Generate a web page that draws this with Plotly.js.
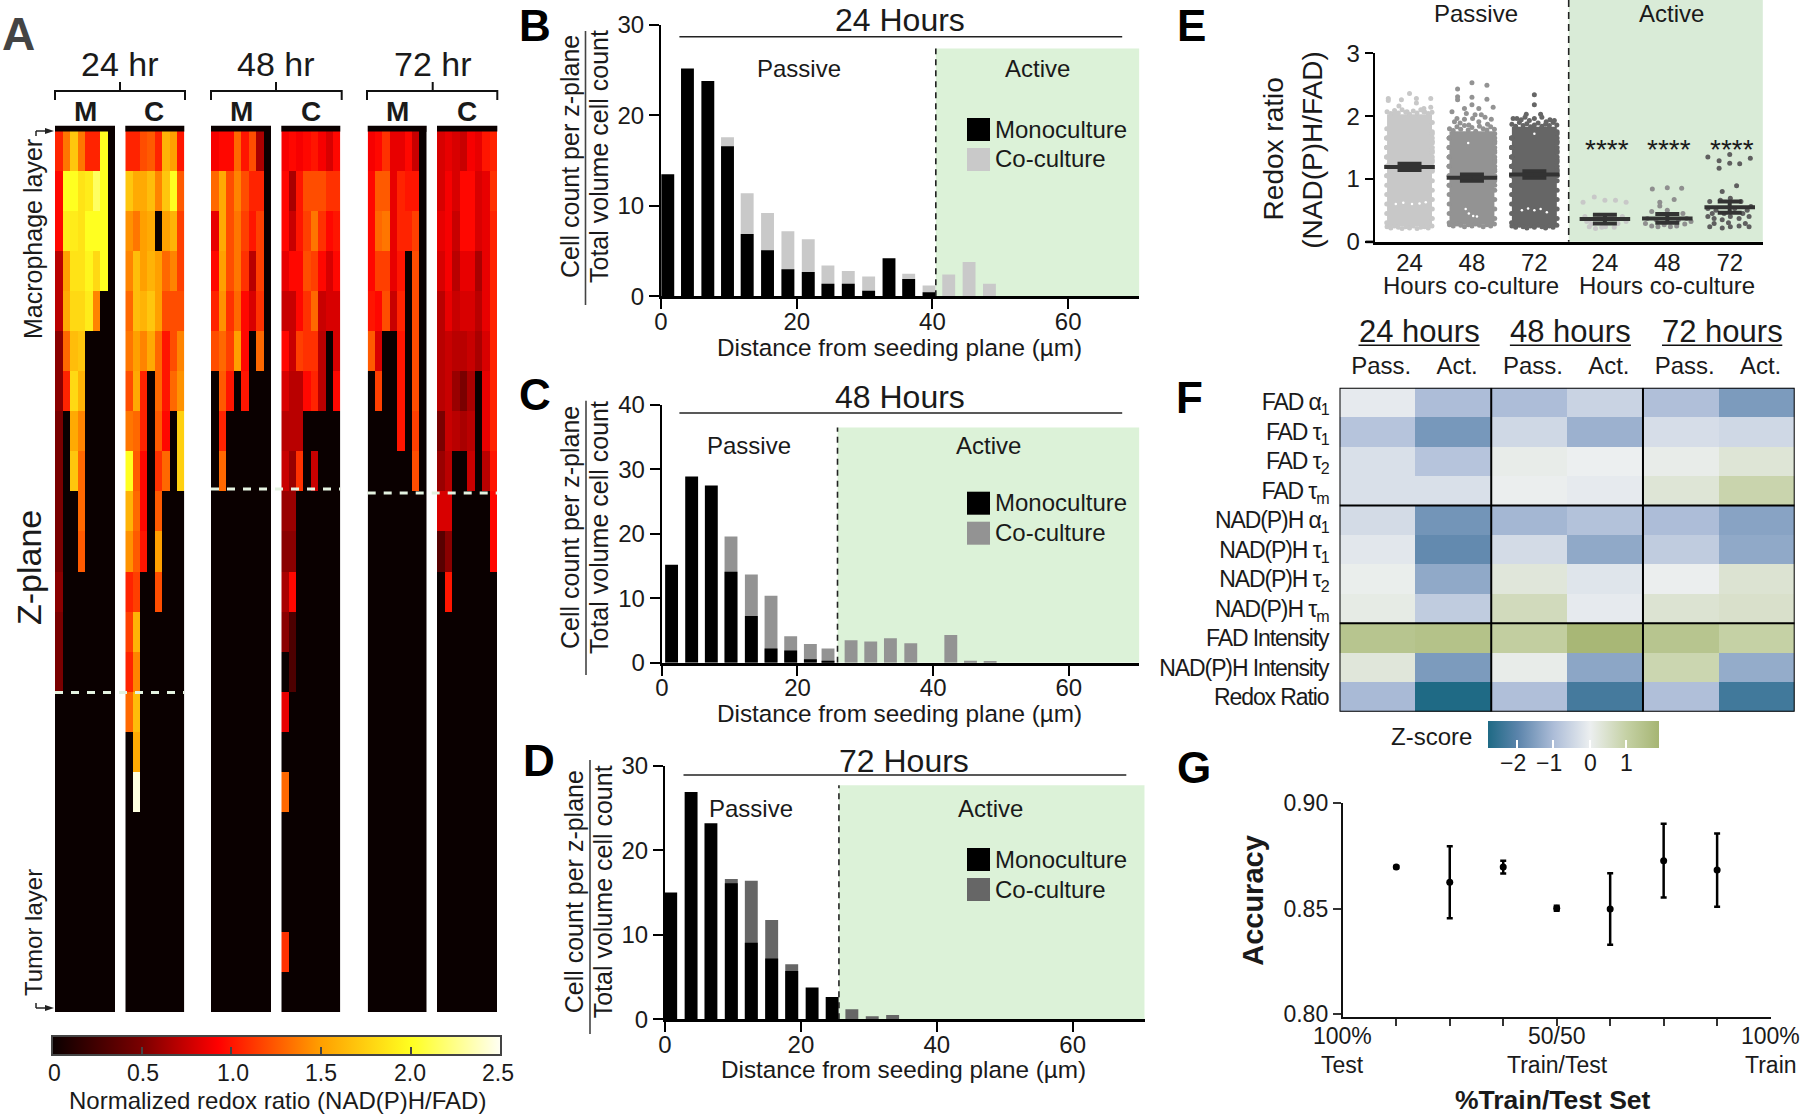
<!DOCTYPE html>
<html><head><meta charset="utf-8">
<script src="https://cdn.plot.ly/plotly-3.0.1.min.js"></script>
<style>html,body{margin:0;padding:0;background:#fff}#g{width:1800px;height:1116px}</style>
</head><body><div id="g"></div>
<script>
// ---------- Panel A values (only rows above the all-black part; remaining rows are 0)
const a24M=[[1.05,1.35,1.7,1.35,1.05,1.05,2,0],[.95,2,2,1.85,1.9,2.15,2,0],[.95,1.9,1.9,1.85,2,2,2,0],[.7,1.5,1.85,1.85,1.95,1.8,2,0],[.7,1.55,1.8,1.8,1.9,1.4,0,0],[.55,1.3,1.65,1.7,0,0,0,0],[.55,1.05,1.8,1.6,0,0,0,0],[.5,0,1.55,1.4,0,0,0,0],[.5,0,1.7,1.3,0,0,0,0],[.5,0,0,1.3,0,0,0,0],[.5,0,0,1.25,0,0,0,0],[.55,0,0,0,0,0,0,0],[.5,0,0,0,0,0,0,0],[.5,0,0,0,0,0,0,0]];
const a24C=[[1.05,1.05,1.2,1.25,1.05,1.6,1.5,1],[1.7,1.55,1.55,1.65,1.4,1.7,2,1.25],[1.45,1.35,1.5,1.55,0,1.5,1.6,1.15],[1.4,1.65,1.5,1.6,1.5,1.3,1.4,1.15],[1.3,1.65,1.6,1.7,1.5,1.2,1.2,1.2],[1.35,1.5,1.4,1.55,1.3,1,1.2,1.4],[1.2,1.55,1.05,0,1.3,1,1.3,1.45],[1.35,1.3,1.05,0,1.25,.95,0,1.75],[2,1.25,.95,0,1.1,1.3,0,1.75],[1.6,1.3,.95,0,1.25,0,0,0],[1.45,1.25,1,0,1.5,0,0,0],[1.05,1.15,0,0,1.2,0,0,0],[1.15,1.6,0,0,0,0,0,0],[1.05,1.4,0,0,0,0,0,0],[1.3,1.65,0,0,0,0,0,0],[0,1.55,0,0,0,0,0,0],[0,2.45,0,0,0,0,0,0]];
const a48M=[[.9,.95,.95,1.3,1,1.2,.65,0],[1.3,1.55,1.2,1.4,1.2,1.05,1.05,0],[.85,1.55,1.2,1.35,1.15,1,1.15,0],[.95,1.5,1.2,1.35,1.1,.7,1.15,0],[1.05,1.45,1.1,1.3,.95,.8,1.1,0],[1.2,1.3,1.15,1.5,.95,0,1.3,0],[0,1.25,1,0,1,0,0,0],[0,1.05,0,0,0,0,0,0],[0,1.3,0,0,0,0,0,0]];
const a48C=[[.9,.95,.9,.95,1,.9,.8,.95],[.95,.65,1,1.2,1.2,1.2,1.1,1.1],[.95,.75,1,1.15,1.35,1.1,.95,1],[.85,.95,.95,1.2,1.15,.95,.8,.95],[.75,.75,.95,1.1,1.3,.75,.8,.8],[.95,.75,1.15,1.1,1.1,.7,0,.8],[.8,.7,.7,.95,1.05,.7,0,.95],[.7,.7,.7,0,0,0,0,0],[.75,.6,1.1,0,.75,0,0,0],[.6,.6,0,0,0,0,0,0],[.55,.55,0,0,0,0,0,0],[.65,.95,0,0,0,0,0,0],[.55,.3,0,0,0,0,0,0],[0,.3,0,0,0,0,0,0],[.85,0,0,0,0,0,0,0],[0,0,0,0,0,0,0,0],[1.3,0,0,0,0,0,0,0],[0,0,0,0,0,0,0,0],[0,0,0,0,0,0,0,0],[0,0,0,0,0,0,0,0],[1.1,0,0,0,0,0,0,0]];
const a72M=[[.9,.95,1.1,.85,.85,.95,.75,0],[.95,1.25,1.25,.85,1.05,1,1,0],[.95,1.3,1.35,.85,1.05,1.05,1.15,0],[.95,1.15,1.15,.85,1,0,1.2,0],[1,.95,1.2,.75,1.05,0,1.2,0],[1.25,.8,0,0,1,0,1.2,0],[0,1.15,0,0,1,0,1.2,0],[0,0,0,0,1,0,1.15,0],[0,0,0,0,0,0,1.2,0]];
const a72C=[[.8,.85,.8,.75,.9,.85,1,1.05],[.8,.9,.8,.95,.95,.8,.85,1.1],[.85,.9,.75,.95,.95,.8,.85,1.05],[.8,.9,.7,.85,.85,.65,.85,1.05],[.7,.85,.75,.8,.8,.7,.85,1.05],[.7,.75,.7,.7,.75,.65,.8,1.05],[.7,.75,.6,.5,.65,0,.85,1.05],[.5,.75,.7,.65,.7,0,.85,1.05],[.6,.7,0,0,.75,0,.7,1],[.8,.8,0,0,0,0,0,.95],[.35,.55,0,0,0,0,0,.95],[0,1,0,0,0,0,0,0]];
const hotScale=[[0,'#0a0000'],[.2,'#7a0000'],[.37,'#ff0000'],[.6,'#ffa000'],[.8,'#ffff20'],[1,'#fffff5']];
const aTickVals=[0,.5,1,1.5,2,2.5];
const aTickText=['0','0.5','1.0','1.5','2.0','2.5'];
// ---------- Panels B, C, D
const bX=[1,3.9,6.9,9.8,12.7,15.7,18.7,21.7,24.6,27.6,30.6,33.6,36.5,39.5,42.4,45.4,48.4];
const bMono=[13.5,25.2,23.8,16.6,6.9,5.1,3,2.7,1.4,1.4,.6,4.2,1.9,.45,0,0,0];
const bCo=[0,0,0,17.6,11.4,9.2,7.2,6.3,3.4,2.8,2.2,0,2.5,1.2,2.4,3.8,1.4];
const cX=[1.44,4.4,7.3,10.2,13.2,16.1,19,21.9,24.5,27.9,30.8,33.7,36.7,39.6,42.6,45.5,48.4];
const cMono=[15.2,28.9,27.5,14.1,7.25,2.2,1.9,.55,.3,0,0,0,0,0,0,0,0];
const cCo=[0,0,0,19.6,13.7,10.4,4.1,2.9,2.2,3.5,3.3,3.8,3,0,4.3,.3,.2];
const dX=[.84,3.84,6.76,9.76,12.7,15.7,18.65,21.65,24.6,27.5,30.5,33.5];
const dMono=[15,26.9,23.2,16.1,9.07,7.2,5.7,3.75,2.65,0,0,0];
const dCo=[0,0,0,16.6,16.4,11.75,6.5,0,0,1.2,.35,.5];
// ---------- Panel E
const eIdx=[0,1,2,3.13,4.13,5.13];
const eLabels=['24','48','72','24','48','72'];
const eBandLow=[.25,.27,.25];
const eBandHigh=[2.03,1.76,1.83];
const eColors=['#c8c8c8','#939393','#666666','#c8c8c8','#8f8f8f','#5f5f5f'];
const eMean=[1.19,1.02,1.07,.36,.37,.55];
const eErr=[.05,.05,.05,.07,.07,.09];
const e0dx=[-.34,-.34,-.17,0,-.13,.11,.11,.34,.34,.23,-.24,-.04,.23];
const e0y=[2.28,2.25,2.16,2.36,2.26,2.28,2.21,2.28,2.14,2.12,2.04,2.07,2.07];
const e1dx=[-.23,0,.24,-.23,-.23,0,.24,0,-.12,.11,.34,-.32,-.09,.05,.15,-.24,-.12,.01,.21,.31,-.28,.11,-.19,.25,-.05];
const e1y=[2.43,2.53,2.49,2.31,2.26,2.3,2.27,2.18,2.12,2.12,2.14,2.07,2.04,2.02,2.02,1.96,1.95,1.96,1.98,1.95,1.91,1.91,1.89,1.87,1.86];
const e2dx=[0,0,-.13,.1,-.28,-.15,0,.12,.25,.32,-.34,-.21,-.08,.19];
const e2y=[2.34,2.18,2.03,2.03,1.96,1.98,1.96,1.98,1.94,1.93,1.96,1.94,1.93,1.91];
const e3dx=[-.35,-.17,0,.17,.34,-.29,-.25,-.22,-.15,-.05,.01,.15,.21,.34,-.32,.28,-.25,-.09,.11];
const e3y=[.63,.71,.66,.66,.63,.32,.24,.28,.21,.23,.24,.23,.29,.32,.4,.4,.35,.42,.42];
const e4dx=[-.24,0,.23,-.12,-.12,.11,-.25,0,.25,-.35,-.25,-.15,-.05,.05,.15,.28,.38,-.32,.31,-.18,.18];
const e4y=[.84,.86,.85,.63,.57,.67,.48,.5,.45,.29,.25,.24,.27,.24,.25,.28,.32,.37,.37,.35,.35];
const e5dx=[-.35,-.17,0,.33,-.17,0,.16,.11,-.12,-.32,-.15,.01,.18,-.35,-.22,-.09,.08,.28,.34,-.35,-.25,-.12,.01,.15,.31,-.32,-.12,.01,.15,.31,-.25,-.02,.25,-.28,.21];
const e5y=[1.35,1.29,1.39,1.33,1.17,1.25,1.24,.89,.8,.64,.66,.69,.64,.53,.5,.45,.53,.5,.56,.4,.37,.35,.4,.37,.4,.24,.22,.24,.25,.24,.29,.3,.29,.45,.45];
// rim of the dense passive swarms, read along their edges
const eRimDx=[-.36,-.3,-.24,-.18,-.12,-.06,0,.06,.12,.18,.24,.3,.36];
const e0Top=[2.07,2.04,2.09,2.05,2.1,2.06,2.03,2.08,2.05,2.1,2.07,2.04,2.06];
const e1Top=[1.8,1.77,1.83,1.79,1.85,1.78,1.82,1.76,1.84,1.8,1.78,1.83,1.79];
const e2Top=[1.87,1.84,1.9,1.85,1.88,1.83,1.86,1.89,1.84,1.87,1.85,1.9,1.86];
const e0Bot=[.24,.22,.25,.23,.21,.24,.22,.25,.21,.23,.24,.22,.25];
const e1Bot=[.27,.25,.28,.26,.24,.27,.25,.28,.26,.24,.27,.25,.28];
const e2Bot=[.25,.23,.26,.24,.22,.25,.23,.26,.24,.22,.25,.23,.26];
const eSideY=[.3,.45,.6,.75,.9,1.05,1.2,1.35,1.5,1.65];
const eGapX=[-.22,-.1,.04,.16,.26,.9,.95,1.02,1.08,.94,1.8,1.9,2,2.1,2.2,2];
const eGapY=[.6,.62,.6,.61,.63,.52,.45,.41,.4,1.57,.5,.53,.5,.52,.47,1.72];
// ---------- Panel F
const fRows=['FAD α<sub>1</sub>','FAD τ<sub>1</sub>','FAD τ<sub>2</sub>','FAD τ<sub>m</sub>','NAD(P)H α<sub>1</sub>','NAD(P)H τ<sub>1</sub>','NAD(P)H τ<sub>2</sub>','NAD(P)H τ<sub>m</sub>','FAD Intensity','NAD(P)H Intensity','Redox Ratio'];
const fCols=['Pass.','Act.','Pass.','Act.','Pass.','Act.'];
const fZ=[[-.1,-1,-1,-.55,-.95,-1.6],[-.85,-1.65,-.45,-1.2,-.35,-.45],[-.3,-.85,.1,0,.1,.35],[-.3,-.3,.03,-.1,.35,.9],[-.4,-1.7,-1.1,-.9,-1,-1.45],[-.15,-1.9,-.4,-1.35,-.7,-1.35],[.05,-1.35,.3,-.2,.03,.4],[.15,-.7,.7,-.1,.4,.5],[1.4,1.5,1.1,1.85,1.4,1],[.3,-1.6,.1,-1.4,.85,-1.3],[-1.05,-2.82,-.95,-2.3,-.95,-2.35]];
const zScale=[[0,'#1f6a85'],[.174,'#5b84ab'],[.386,'#adbdd8'],[.597,'#eceff0'],[.809,'#c5d1a5'],[1,'#a6b573']];
// ---------- Panel G
const gX=[1,2,3,4,5,6,7];
const gY=[.8696,.8624,.8696,.8501,.8498,.8726,.8682];
const gErr=[.0005,.017,.003,.0012,.0169,.0174,.0173];

const W=1800,H=1116, BASE='"Liberation Sans",Arial,sans-serif', INK='#1a1a1a';
const px=x=>x/W, py=y=>1-y/H;
const layout={width:W,height:H,margin:{l:0,r:0,t:0,b:0,autoexpand:false},paper_bgcolor:'#fff',plot_bgcolor:'rgba(0,0,0,0)',
  showlegend:false,barmode:'overlay',font:{family:BASE,color:INK},shapes:[],annotations:[]};
const traces=[];
let nAxis=0;
function axes(x0,x1,y0,y1,xo,yo){ // pixel rectangle -> a new subplot
  nAxis++; const k=nAxis===1?'':nAxis;
  layout['xaxis'+k]=Object.assign({domain:[px(x0),px(x1)],anchor:'y'+k,showgrid:false,zeroline:false},xo);
  layout['yaxis'+k]=Object.assign({domain:[py(y1),py(y0)],anchor:'x'+k,showgrid:false,zeroline:false},yo);
  return {x:'x'+k,y:'y'+k};
}
function txt(x,y,text,size,o){layout.annotations.push(Object.assign({xref:'paper',yref:'paper',x:px(x),y:py(y),text:text,showarrow:false,xanchor:'center',yanchor:'middle',font:{size:size,family:BASE,color:INK}},o||{}));}
function line(x0,y0,x1,y1,color,w,dash,layer){layout.shapes.push({type:'line',xref:'paper',yref:'paper',x0:px(x0),x1:px(x1),y0:py(y0),y1:py(y1),line:{color:color,width:w,dash:dash||'solid'},layer:layer||'above'});}
function rect(x0,y0,x1,y1,color){layout.shapes.push({type:'rect',xref:'paper',yref:'paper',x0:px(x0),x1:px(x1),y0:py(y0),y1:py(y1),fillcolor:color,line:{width:0}});}
const P=(x,y)=>px(x)+','+py(y);

// ---------- Panel A
const panelA=[[a24M,55,115],[a24C,125.3,184.3],[a48M,211,271],[a48C,281.3,340.3],[a72M,367.7,426.7],[a72C,437,497.3]];
panelA.forEach(p=>{
  const rows=p[0].slice(); while(rows.length<22) rows.push([0,0,0,0,0,0,0,0]);
  const a=axes(p[1],p[2],131,1012,{visible:false,range:[-.5,7.5]},{visible:false,range:[21.5,-.5]});
  traces.push({type:'heatmap',z:rows,xaxis:a.x,yaxis:a.y,coloraxis:'coloraxis',xgap:0,ygap:0,hoverinfo:'skip'});
  rect(p[1],125.7,p[2],131.5,'#0a0000');
});
layout.coloraxis={cmin:0,cmax:2.5,colorscale:hotScale,colorbar:{orientation:'h',x:px(51.7),xanchor:'left',y:py(1036),yanchor:'top',lenmode:'pixels',len:449,thicknessmode:'pixels',thickness:19,xpad:0,ypad:0,outlinewidth:2,outlinecolor:'#444',ticks:'inside',ticklen:9,tickwidth:2,tickcolor:'#444',tickvals:aTickVals,showticklabels:false}};
[54.7,143,233,321,410,498].forEach((x,i)=>txt(x,1072.7,aTickText[i],23));
txt(277,1100,'Normalized redox ratio (NAD(P)H/FAD)',24);
[[120,55,185,'24 hr'],[276,211,341.7,'48 hr'],[432.7,367,497.3,'72 hr']].forEach(b=>{
  txt(b[0],63.6,b[3],34);
  layout.shapes.push({type:'path',xref:'paper',yref:'paper',path:`M${P(b[1],100)}L${P(b[1],91)}L${P(b[2],91)}L${P(b[2],100)}M${P(b[0],91)}L${P(b[0],82)}`,line:{color:'#111',width:2}});
});
[[85,'M'],[154,'C'],[241,'M'],[310.7,'C'],[397,'M'],[466.7,'C']].forEach(m=>txt(m[0],111.4,'<b>'+m[1]+'</b>',28));
txt(33,239,'Macrophage layer',25,{textangle:-90});
txt(29,568,'Z-plane',34,{textangle:-90});
txt(33,933,'Tumor layer',24,{textangle:-90});
line(36,136,36,131,'#222',1.5); line(36,131,47,131,'#222',1.5);
line(36,1003,36,1008,'#222',1.5); line(36,1008,47,1008,'#222',1.5);
[131,1008].forEach(y=>layout.shapes.push({type:'path',xref:'paper',yref:'paper',path:`M${P(45,y-3)}L${P(54,y)}L${P(45,y+3)}Z`,fillcolor:'#222',line:{width:0}}));
[[55,184.3,692.5],[211,340.3,489],[367.7,497.3,493]].forEach(d=>line(d[0],d[2],d[1],d[2],'#e4f2e0',3,'8px,8px'));

// ---------- Panels B, C, D
const GREEN='#dcf2d8', TICK={size:24,family:BASE,color:INK};
function barPanel(o){
  const a=axes(o.x0,o.x1,o.yTop,o.y0,
    {range:[0,o.xMax],showline:true,linewidth:2.6,linecolor:'#000',ticks:'outside',ticklen:10,tickwidth:2,tickcolor:'#000',tickvals:[0,20,40,60],tickfont:TICK,ticklabelstandoff:-8},
    {range:[0,o.yMax],showline:true,linewidth:2.2,linecolor:'#000',ticks:'outside',ticklen:10,tickwidth:2,tickcolor:'#000',tickvals:o.yTicks,tickfont:TICK});
  traces.push({type:'bar',x:o.xs,y:o.co,width:1.9,marker:{color:o.coColor,line:{width:0}},xaxis:a.x,yaxis:a.y,name:'Co-culture',hoverinfo:'skip'});
  traces.push({type:'bar',x:o.xs,y:o.mono,width:1.9,marker:{color:'#000',line:{width:0}},xaxis:a.x,yaxis:a.y,name:'Monoculture',hoverinfo:'skip'});
  layout.shapes.push({type:'rect',xref:a.x,yref:a.y,x0:o.split,x1:o.xMax,y0:0,y1:o.greenTop,fillcolor:GREEN,line:{width:0},layer:'below'});
  layout.shapes.push({type:'line',xref:a.x,yref:a.y,x0:o.split,x1:o.split,y0:0,y1:o.greenTop,line:{color:'#222',width:1.6,dash:'6px,5px'}});
  txt(o.titleX,o.titleY,o.title,32);
  line(o.ruleX0,o.ruleY,o.ruleX1,o.ruleY,'#222',1.6);
  txt(o.passive[0],o.passive[1],'Passive',24); txt(o.active[0],o.active[1],'Active',24);
  rect(967,o.legY,990,o.legY+23,'#000'); rect(967,o.legY+30,990,o.legY+53,o.coColor);
  txt(993,o.legY+11,'Monoculture',24,{xanchor:'left'}); txt(993,o.legY+41,'Co-culture',24,{xanchor:'left'});
  txt(o.titleX,o.xlabY,'Distance from seeding plane (µm)',24.3);
  line(o.sepX,o.sepY0,o.sepX,o.sepY1,'#444',1.6);
  txt(o.fracX,o.fracY,'Cell count per z-plane',25,{textangle:-90}); txt(o.fracX+29,o.fracY,'Total volume cell count',25,{textangle:-90});
}
barPanel({x0:661,x1:1139.4,yTop:25,y0:296.3,xMax:70.5,yMax:30,yTicks:[0,10,20,30],xs:bX,mono:bMono,co:bCo,coColor:'#c9c9c9',split:40.5,greenTop:27.4,title:'24 Hours',titleX:899.8,titleY:20,ruleX0:679.4,ruleX1:1122.2,ruleY:36.7,passive:[798.6,69],active:[1037.3,69],legY:118,xlabY:348,sepX:585.5,sepY0:31,sepY1:305,fracX:570,fracY:157});
barPanel({x0:661.8,x1:1139.4,yTop:405,y0:662.7,xMax:70.4,yMax:40,yTicks:[0,10,20,30,40],xs:cX,mono:cMono,co:cCo,coColor:'#939393',split:25.9,greenTop:36.5,title:'48 Hours',titleX:899.8,titleY:397,ruleX0:679.4,ruleX1:1122.2,ruleY:413,passive:[749.2,446],active:[988.4,446],legY:491.7,xlabY:713,sepX:586,sepY0:400.7,sepY1:675,fracX:570,fracY:528});
barPanel({x0:665,x1:1144.7,yTop:765.7,y0:1019.3,xMax:70.6,yMax:30,yTicks:[0,10,20,30],xs:dX,mono:dMono,co:dCo,coColor:'#666666',split:25.6,greenTop:27.7,title:'72 Hours',titleX:903.9,titleY:760.7,ruleX0:683.5,ruleX1:1126.3,ruleY:775,passive:[750.8,808.7],active:[990.8,808.7],legY:848,xlabY:1069,sepX:590,sepY0:760,sepY1:1034,fracX:574.3,fracY:892});

// ---------- Panel E
const eA=axes(1374.7,1762.8,53.3,241.7,
  {range:[-.558,5.66],showline:true,linewidth:2.6,linecolor:'#000',ticks:'',tickvals:eIdx,ticktext:eLabels,tickfont:{size:24,family:BASE,color:INK},ticklabelstandoff:-2},
  {range:[0,3],showline:true,linewidth:2.2,linecolor:'#000',ticks:'outside',ticklen:8,tickwidth:2,tickcolor:'#000',tickvals:[0,1,2,3],tickfont:{size:24,family:BASE,color:INK}});
layout.shapes.push({type:'rect',xref:'paper',yref:'paper',x0:px(1568.7),x1:px(1762.8),y0:py(241.7),y1:1,fillcolor:'#d9ebd7',line:{width:0},layer:'below'});
line(1568.7,0,1568.7,241.7,'#222',1.6,'7px,5px');
line(1365.6,241.9,1374.7,241.9,'#000',2.6);
traces.push({type:'bar',x:eIdx.slice(0,3),base:eBandLow,y:eBandHigh.map((h,i)=>h-eBandLow[i]),width:.72,marker:{color:eColors.slice(0,3),line:{width:0}},xaxis:eA.x,yaxis:eA.y,hoverinfo:'skip'});
[[e0Top,e0Bot],[e1Top,e1Bot],[e2Top,e2Bot]].forEach((r,i)=>{
  const xs=[],ys=[];
  eRimDx.forEach((d,j)=>{xs.push(eIdx[i]+d,eIdx[i]+d);ys.push(r[0][j],r[1][j]);});
  eSideY.forEach(v=>{xs.push(eIdx[i]-.365,eIdx[i]+.365);ys.push(v,v+.07);xs.push(eIdx[i]-.365,eIdx[i]+.365);ys.push(v+1.0>eBandHigh[i]?v:v+.9,v+.9>eBandHigh[i]?v:v+.85);});
  traces.push({type:'scatter',mode:'markers',x:xs,y:ys,marker:{size:5,color:eColors[i]},xaxis:eA.x,yaxis:eA.y,hoverinfo:'skip'});
});
traces.push({type:'scatter',mode:'markers',x:eGapX,y:eGapY,marker:{size:2.5,color:'#fff'},xaxis:eA.x,yaxis:eA.y,hoverinfo:'skip'});
[[e0dx,e0y],[e1dx,e1y],[e2dx,e2y],[e3dx,e3y],[e4dx,e4y],[e5dx,e5y]].forEach((p,i)=>{
  traces.push({type:'scatter',mode:'markers',x:p[0].map(d=>eIdx[i]+d),y:p[1],marker:{size:5,color:eColors[i]},xaxis:eA.x,yaxis:eA.y,hoverinfo:'skip'});
});
traces.push({type:'scatter',mode:'markers',x:eIdx,y:eMean,marker:{size:1,color:'#333'},error_x:{type:'constant',value:.405,thickness:4,width:0,color:'#333'},error_y:{type:'data',array:eErr,thickness:4,width:12,color:'#333'},xaxis:eA.x,yaxis:eA.y,hoverinfo:'skip'});
[0,1,2].forEach(i=>layout.annotations.push({xref:eA.x,yref:eA.y,x:eIdx[3+i]+.03,y:1.47,text:'****',showarrow:false,font:{size:28,color:INK,family:BASE}}));
txt(1476.3,14,'Passive',24); txt(1671,14,'Active',24);
txt(1471.3,285,'Hours co-culture',24); txt(1666.6,285,'Hours co-culture',24);
txt(1274.4,149,'Redox ratio',28,{textangle:-90}); txt(1311.7,150,'(NAD(P)H/FAD)',28,{textangle:-90});

// ---------- Panel F
const fA=axes(1339.5,1794.7,387.7,711.7,
  {range:[-.5,5.5],side:'top',tickvals:[.05,1.05,2.05,3.05,4.05,5.05],ticktext:fCols,tickfont:{size:24,family:BASE,color:INK},ticks:'',ticklabelstandoff:8},
  {range:[10.5,-.5],tickvals:[0,1,2,3,4,5,6,7,8,9,10],ticktext:fRows.map(t=>'<span style="letter-spacing:-1.1px">'+t+'</span>'),tickfont:{size:23,family:BASE,color:INK},ticks:'',ticklabelstandoff:10});
traces.push({type:'heatmap',z:fZ,xaxis:fA.x,yaxis:fA.y,coloraxis:'coloraxis2',hoverinfo:'skip'});
layout.coloraxis2={cmin:-2.82,cmax:1.906,colorscale:zScale,colorbar:{orientation:'h',x:px(1487.5),xanchor:'left',y:py(720.7),yanchor:'top',lenmode:'pixels',len:171,thicknessmode:'pixels',thickness:27,xpad:0,ypad:0,outlinewidth:0,ticks:'inside',ticklen:8,tickwidth:2,tickcolor:'#fff',tickvals:[-2,-1,0,1],showticklabels:false}};
[[1512.8,'−2'],[1549.3,'−1'],[1590,'0'],[1626.8,'1']].forEach(t=>txt(t[0],762.7,t[1],23));
layout.shapes.push({type:'rect',xref:fA.x,yref:fA.y,x0:-.5,x1:5.5,y0:-.5,y1:10.5,line:{color:'#000',width:2},fillcolor:'rgba(0,0,0,0)'});
[1.5,3.5].forEach(v=>layout.shapes.push({type:'line',xref:fA.x,yref:fA.y,x0:v,x1:v,y0:-.5,y1:10.5,line:{color:'#000',width:2}}));
[3.5,7.5].forEach(v=>layout.shapes.push({type:'line',xref:fA.x,yref:fA.y,x0:-.5,x1:5.5,y0:v,y1:v,line:{color:'#000',width:2}}));
[[1419.5,1358.5,1479.6,'24 hours'],[1570.4,1509.9,1630.9,'48 hours'],[1722,1662,1782.3,'72 hours']].forEach(h=>{txt(h[0],331,h[3],31); line(h[1],345.3,h[2],345.3,'#111',1.6);});
txt(1431,736,'Z-score',24);

// ---------- Panel G
const gA=axes(1342.8,1770.6,802.7,1016.7,
  {range:[0,8],showline:true,linewidth:2,linecolor:'#111',ticks:'outside',ticklen:7,tickwidth:1.5,tickcolor:'#333',tickvals:gX,showticklabels:false},
  {range:[.7989,.9],showline:true,linewidth:2,linecolor:'#111',ticks:'outside',ticklen:8,tickwidth:1.5,tickcolor:'#333',tickvals:[.8,.85,.9],ticktext:['0.80','0.85','0.90'],tickfont:{size:23,family:BASE,color:INK}});
traces.push({type:'scatter',mode:'markers',x:gX,y:gY,marker:{size:7,color:'#000'},error_y:{type:'data',array:gErr,thickness:2.5,width:3,color:'#000'},xaxis:gA.x,yaxis:gA.y,hoverinfo:'skip'});
[[1342.8,'100%','Test'],[1557,'50/50','Train/Test'],[1770.6,'100%','Train']].forEach(l=>{txt(l[0],1036,l[1],23);txt(l[0],1065,l[2],23);});
txt(1553,1100,'<b>%Train/Test Set</b>',26.5);
txt(1252.8,900,'<b>Accuracy</b>',29,{textangle:-90});

// ---------- Panel letters
[[18,34,'A',46],[534.5,25,'B',44],[534.5,394,'C',44],[538.6,760,'D',44],[1191.5,25,'E',44],[1189.4,397,'F',44],[1193.5,767,'G',44]].forEach(l=>txt(l[0],l[1],'<b>'+l[2]+'</b>',l[3],{font:{size:l[3],family:BASE,color:l[2]==='A'?'#444':'#000'}}));

Plotly.newPlot('g',traces,layout,{displayModeBar:false,responsive:false});
</script></body></html>
